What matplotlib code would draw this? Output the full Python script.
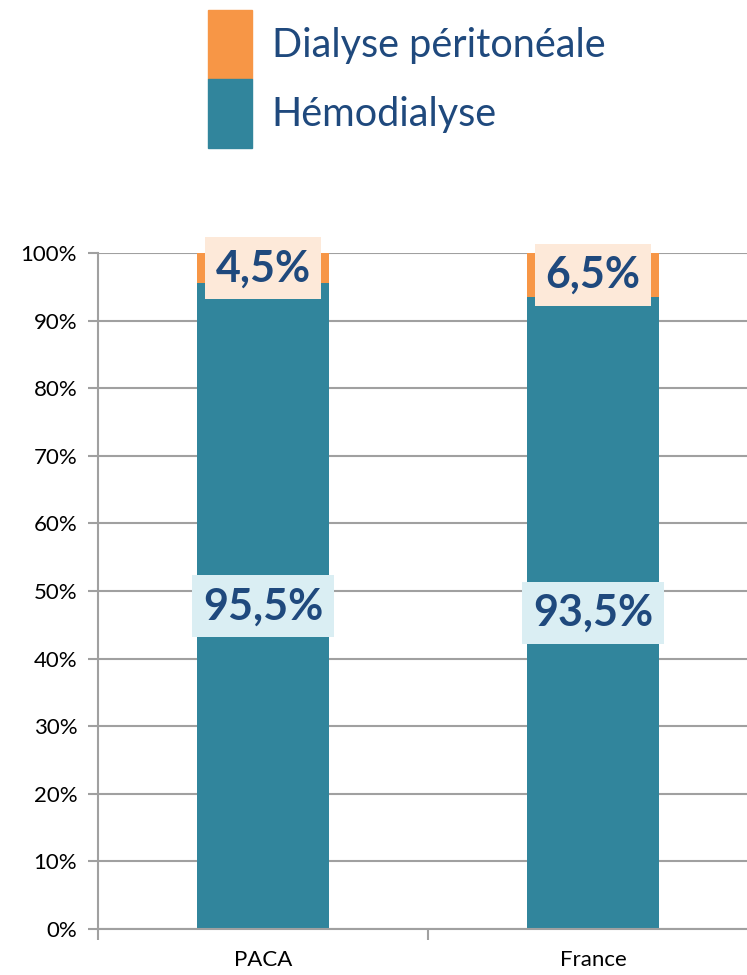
import numpy as np
import matplotlib.pyplot as plt
from matplotlib.patches import Patch
from matplotlib.ticker import FixedLocator, PercentFormatter

plt.rcParams['font.family'] = ['Lato', 'DejaVu Sans']

categories = ['PACA', 'France']
hemodialyse = [95.5, 93.5]
dialyse_peritoneale = [4.5, 6.5]
hemo_labels = ['95,5%', '93,5%']
dp_labels = ['4,5%', '6,5%']

teal = '#31859C'
orange = '#F79646'
text_blue = '#1F497D'
grid_grey = '#A0A0A0'

fig = plt.figure(figsize=(7.47, 9.75), dpi=100)
ax = fig.add_axes([98 / 747, 1 - 929 / 975, 1 - 98 / 747, (929 - 253) / 975])

x = np.arange(len(categories))
width = 0.4
ax.bar(x, hemodialyse, width, color=teal, zorder=2, label='Hémodialyse')
ax.bar(x, dialyse_peritoneale, width, bottom=hemodialyse, color=orange, zorder=2,
       label='Dialyse péritonéale')

# data labels at the middle of each segment
for i in range(len(categories)):
    ax.text(x[i], hemodialyse[i] / 2, hemo_labels[i], ha='center', va='center',
            fontsize=31, fontweight='bold', color=text_blue, zorder=4,
            bbox=dict(boxstyle='square,pad=0.25', fc='#DAEEF3', ec='none'))
    ax.text(x[i], hemodialyse[i] + dialyse_peritoneale[i] / 2, dp_labels[i],
            ha='center', va='center', fontsize=31, fontweight='bold',
            color=text_blue, zorder=4,
            bbox=dict(boxstyle='square,pad=0.25', fc='#FDE9D9', ec='none'))

ax.set_ylim(0, 100)
ax.set_xlim(-0.5, (747 - 263) / 330)
ax.set_yticks(np.arange(0, 101, 10))
ax.yaxis.set_major_formatter(PercentFormatter(decimals=0))
ax.grid(axis='y', color=grid_grey, linewidth=1.5, zorder=0)

ax.set_xticks(x)
ax.set_xticklabels(categories)
ax.xaxis.set_minor_locator(FixedLocator([-0.5, 0.5]))
ax.tick_params(axis='x', which='major', length=0, pad=15, labelsize=16)
ax.tick_params(axis='x', which='minor', length=8, width=1.5, color=grid_grey)
ax.tick_params(axis='y', length=7, width=1.5, color=grid_grey, labelsize=16, pad=8)

for side in ['top', 'right']:
    ax.spines[side].set_visible(False)
for side in ['left', 'bottom']:
    ax.spines[side].set_color(grid_grey)
    ax.spines[side].set_linewidth(1.5)

handles = [Patch(color=orange), Patch(color=teal)]
leg = fig.legend(handles, ['Dialyse péritonéale', 'Hémodialyse'],
                 loc='upper left', bbox_to_anchor=(208 / 747, 1 - 10 / 975),
                 frameon=False, fontsize=28.5, labelcolor=text_blue,
                 handlelength=1.11, handleheight=2.3, labelspacing=0,
                 handletextpad=0.5, borderpad=0, borderaxespad=0)

fig.savefig('out.png', dpi=100)
